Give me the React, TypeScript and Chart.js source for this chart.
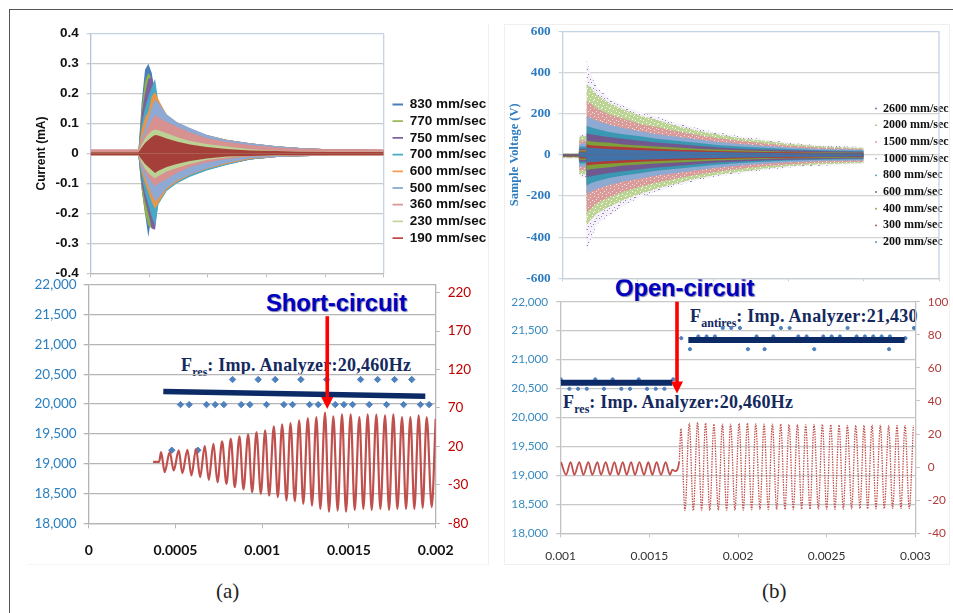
import React, { useEffect, useRef } from "react";
import { Chart, registerables } from "chart.js";

Chart.register(...registerables);

// ---------- Panel (a) top: current envelopes ----------
const currentX = [0, 0.813, 0.87, 0.927, 0.984, 1.041, 1.098, 1.155, 1.297, 1.468, 1.695, 1.98, 2.32, 2.72, 3.17, 3.57, 4.14, 5];
const currentNames = ["830 mm/sec", "770 mm/sec", "750 mm/sec", "700 mm/sec", "600 mm/sec", "500 mm/sec", "360 mm/sec", "230 mm/sec", "190 mm/sec"];
const currentColors = ["#4a7ebb", "#8fb04a", "#7d60a0", "#46aac5", "#ee9445", "#8ea9d3", "#d69190", "#bcd295", "#a53f3a"];
const currentLegendColors = ["#4a7ebb", "#98b954", "#7d60a0", "#46aac5", "#f59d56", "#95b3d7", "#d99694", "#c3d69b", "#be4b48"];
const currentUpper = [
  [0.005, 0.005, 0.17, 0.28, 0.3, 0.27, 0.2, 0.15, 0.12, 0.1, 0.08, 0.06, 0.045, 0.034, 0.024, 0.018, 0.013, 0.012],
  [0.005, 0.005, 0.15, 0.24, 0.27, 0.25, 0.2, 0.15, 0.12, 0.1, 0.08, 0.06, 0.045, 0.033, 0.023, 0.018, 0.013, 0.012],
  [0.005, 0.005, 0.13, 0.2, 0.25, 0.255, 0.22, 0.16, 0.125, 0.1, 0.08, 0.06, 0.045, 0.033, 0.023, 0.018, 0.013, 0.012],
  [0.005, 0.005, 0.1, 0.15, 0.19, 0.22, 0.25, 0.17, 0.125, 0.102, 0.082, 0.062, 0.046, 0.034, 0.024, 0.018, 0.013, 0.012],
  [0.005, 0.005, 0.08, 0.12, 0.14, 0.19, 0.205, 0.18, 0.13, 0.105, 0.084, 0.062, 0.046, 0.034, 0.024, 0.018, 0.013, 0.012],
  [0.005, 0.005, 0.05, 0.085, 0.12, 0.155, 0.18, 0.17, 0.13, 0.105, 0.085, 0.063, 0.045, 0.034, 0.024, 0.018, 0.013, 0.012],
  [0.014, 0.014, 0.04, 0.065, 0.09, 0.11, 0.13, 0.12, 0.105, 0.09, 0.07, 0.052, 0.038, 0.028, 0.02, 0.016, 0.014, 0.014],
  [0.005, 0.005, 0.03, 0.05, 0.065, 0.075, 0.08, 0.078, 0.068, 0.055, 0.042, 0.032, 0.023, 0.014, 0.009, 0.007, 0.006, 0.006],
  [0.004, 0.004, 0.02, 0.035, 0.045, 0.055, 0.062, 0.06, 0.05, 0.04, 0.03, 0.022, 0.015, 0.01, 0.008, 0.006, 0.005, 0.005],
];
const currentLower = [
  [-0.005, -0.005, -0.12, -0.2, -0.28, -0.2, -0.17, -0.15, -0.12, -0.095, -0.075, -0.055, -0.037, -0.02, -0.012, -0.009, -0.007, -0.006],
  [-0.005, -0.005, -0.12, -0.2, -0.24, -0.25, -0.19, -0.15, -0.12, -0.095, -0.075, -0.055, -0.037, -0.02, -0.012, -0.009, -0.007, -0.006],
  [-0.005, -0.005, -0.1, -0.16, -0.2, -0.25, -0.255, -0.16, -0.12, -0.095, -0.075, -0.055, -0.037, -0.02, -0.012, -0.009, -0.007, -0.006],
  [-0.005, -0.005, -0.08, -0.13, -0.17, -0.21, -0.24, -0.17, -0.125, -0.1, -0.078, -0.057, -0.038, -0.02, -0.012, -0.009, -0.007, -0.006],
  [-0.005, -0.005, -0.06, -0.1, -0.13, -0.16, -0.185, -0.165, -0.12, -0.095, -0.072, -0.052, -0.035, -0.018, -0.012, -0.009, -0.007, -0.006],
  [-0.005, -0.005, -0.05, -0.08, -0.11, -0.135, -0.16, -0.15, -0.115, -0.09, -0.07, -0.05, -0.032, -0.016, -0.012, -0.009, -0.007, -0.006],
  [-0.008, -0.008, -0.035, -0.06, -0.08, -0.095, -0.11, -0.1, -0.085, -0.065, -0.045, -0.03, -0.018, -0.01, -0.008, -0.008, -0.008, -0.008],
  [-0.006, -0.006, -0.03, -0.05, -0.065, -0.075, -0.083, -0.075, -0.06, -0.048, -0.035, -0.022, -0.013, -0.008, -0.007, -0.006, -0.006, -0.006],
  [-0.005, -0.005, -0.02, -0.035, -0.045, -0.055, -0.065, -0.058, -0.045, -0.035, -0.025, -0.017, -0.01, -0.008, -0.006, -0.006, -0.005, -0.005],
];

// ---------- Panel (b) top: sample voltage envelopes ----------
const voltageX = [0, 0.213, 0.222, 0.31, 0.319, 0.363, 0.452, 0.629, 0.807, 1.028, 1.25, 1.516, 1.782, 2.048, 2.358, 2.668, 3.023, 3.466, 3.998];
const voltageNames = ["2600 mm/sec", "2000 mm/sec", "1500 mm/sec", "1000 mm/sec", "800 mm/sec", "600 mm/sec", "400 mm/sec", "300 mm/sec", "200 mm/sec"];
const voltageColors = ["#8064a2", "#a6c36f", "#d98f8d", "#8eaad2", "#3a98b2", "#71588f", "#7f9f3a", "#b03a36", "#4172a8"];
const voltageUpper = [
  [8, 8, 100, 100, 460, 400, 330, 270, 240, 205, 185, 155, 130, 110, 90, 75, 58, 45, 38],
  [6, 6, 90, 90, 340, 330, 290, 250, 220, 190, 170, 140, 118, 100, 80, 68, 52, 40, 33],
  [5, 5, 70, 70, 260, 250, 225, 195, 175, 150, 135, 115, 98, 82, 68, 56, 44, 34, 28],
  [5, 5, 55, 55, 190, 180, 165, 145, 130, 115, 100, 88, 75, 63, 52, 44, 35, 28, 24],
  [4, 4, 40, 40, 140, 135, 125, 110, 100, 90, 78, 68, 58, 48, 40, 34, 28, 22, 20],
  [4, 4, 30, 30, 105, 100, 95, 85, 78, 68, 60, 52, 44, 37, 30, 26, 22, 18, 15],
  [3, 3, 22, 22, 70, 66, 62, 58, 50, 45, 40, 35, 30, 26, 22, 18, 15, 12, 10],
  [2, 2, 16, 16, 50, 47, 44, 40, 38, 33, 29, 25, 22, 19, 16, 14, 12, 10, 8],
  [1, 1, 12, 12, 35, 34, 32, 28, 25, 22, 20, 17, 15, 13, 11, 10, 8, 7, 6],
];
const voltageLower = [
  [-20, -20, -110, -110, -470, -420, -340, -290, -250, -205, -180, -150, -125, -105, -90, -75, -62, -52, -45],
  [-15, -15, -95, -95, -345, -320, -285, -250, -220, -190, -165, -138, -115, -97, -82, -68, -55, -46, -40],
  [-12, -12, -75, -75, -280, -265, -235, -205, -180, -155, -135, -115, -97, -82, -68, -56, -46, -38, -34],
  [-10, -10, -58, -58, -190, -180, -165, -145, -130, -115, -100, -88, -75, -63, -52, -44, -36, -30, -28],
  [-10, -10, -42, -42, -150, -140, -128, -112, -100, -90, -78, -68, -58, -48, -40, -34, -28, -24, -22],
  [-9, -9, -32, -32, -110, -105, -98, -88, -80, -70, -62, -54, -46, -38, -32, -28, -24, -20, -18],
  [-8, -8, -24, -24, -75, -70, -66, -60, -52, -47, -42, -37, -32, -28, -24, -20, -17, -15, -13],
  [-7, -7, -18, -18, -52, -49, -46, -42, -39, -34, -30, -27, -24, -21, -18, -16, -14, -12, -11],
  [-3, -3, -12, -12, -38, -36, -34, -30, -27, -24, -22, -19, -17, -15, -13, -12, -10, -9, -8],
];

// ---------- Panel (a) bottom: short-circuit (time in ms) ----------
const shortTime = [0.371, 0.406, 0.417, 0.438, 0.467, 0.49, 0.519, 0.54, 0.569, 0.592, 0.619, 0.642, 0.669, 0.692, 0.719, 0.742, 0.769, 0.794, 0.819, 0.842, 0.869, 0.892, 0.919, 0.942, 0.967, 0.992, 1.017, 1.04, 1.067, 1.09, 1.115, 1.14, 1.163, 1.188, 1.213, 1.237, 1.263, 1.287, 1.312, 1.335, 1.362, 1.385, 1.41, 1.435, 1.46, 1.483, 1.51, 1.533, 1.56, 1.583, 1.608, 1.631, 1.658, 1.681, 1.708, 1.731, 1.756, 1.779, 1.806, 1.829, 1.854, 1.877, 1.902, 1.925, 1.948, 1.977, 2.0];
const shortSignal = [0, 0, 12.6, -13.5, 12.6, -11.3, 14.8, -14.8, 15.7, -17.8, 17, -20, 20.4, -23.5, 23.5, -26.5, 26.5, -28.7, 30, -33, 33, -36, 35.7, -39.6, 38.7, -41.7, 40.9, -44, 46, -46, 48.7, -50.4, 50.4, -51.3, 53.9, -54.8, 57, -57, 58.3, -61.3, 64, -64.8, 59, -63.5, 61.7, -64.8, 61.7, -62.6, 58.3, -61.3, 61.7, -62.6, 61.3, -61.3, 60.4, -62.6, 61.7, -61.3, 58.3, -61.3, 58.3, -61.3, 60.4, -60, 58.3, -59, 56];
const shortFreqTime = [0.479, 0.529, 0.579, 0.629, 0.679, 0.729, 0.779, 0.829, 0.879, 0.929, 0.977, 1.025, 1.075, 1.125, 1.175, 1.223, 1.273, 1.323, 1.371, 1.421, 1.471, 1.521, 1.567, 1.617, 1.665, 1.717, 1.763, 1.815, 1.862, 1.912, 1.962];
const shortFreq = [19225, 19990, 19990, 19225, 19990, 19990, 19990, 20410, 19990, 19990, 20410, 19990, 20410, 19990, 19990, 20410, 19990, 19990, 20410, 19990, 19990, 19990, 20410, 19990, 20410, 19990, 20410, 19990, 20410, 19990, 19990];
const shortFitTime = [0.43, 1.94];
const shortFit = [20210, 20130];
const shortRightTicks = [-80, -30, 20, 70, 120, 170, 220];
const shortArrow = { x: 1.375, from: 21472, to: 19915 };

// ---------- Panel (b) bottom: open-circuit (time in ms) ----------
const openTime = [1.002, 1.03, 1.056, 1.077, 1.105, 1.128, 1.156, 1.178, 1.207, 1.227, 1.254, 1.278, 1.303, 1.325, 1.35, 1.372, 1.397, 1.419, 1.444, 1.47, 1.494, 1.517, 1.541, 1.566, 1.592, 1.616, 1.63, 1.645, 1.668, 1.678, 1.701, 1.725, 1.748, 1.772, 1.795, 1.817, 1.841, 1.864, 1.889, 1.912, 1.936, 1.958, 1.983, 2.006, 2.03, 2.053, 2.077, 2.1, 2.124, 2.147, 2.171, 2.194, 2.218, 2.241, 2.265, 2.288, 2.312, 2.335, 2.359, 2.382, 2.406, 2.429, 2.453, 2.476, 2.5, 2.523, 2.547, 2.57, 2.594, 2.617, 2.641, 2.664, 2.688, 2.711, 2.731, 2.756, 2.778, 2.803, 2.825, 2.85, 2.872, 2.897, 2.919, 2.942, 2.966, 2.989];
const openSignal = [3, -4.6, 3, -4.6, 3, -4.6, 3, -4.6, 3, -4.6, 3, -4.6, 3, -4.6, 3, -4.6, 3, -4.6, 3, -4.6, 3, -4.6, 3, -4.6, 3, -4.6, -1.5, -2.4, 3, 23.2, -26.2, 26.6, -26.2, 27, -26, 26.6, -26.2, 26, -26, 26, -26, 26, -26, 26.4, -26, 26.6, -25.8, 26.2, -25.6, 26, -25.6, 26, -25.6, 26, -25.6, 25.8, -25.6, 25.8, -25.4, 25.6, -25.4, 25.8, -25.4, 25.8, -25.4, 25.6, -25.4, 25.4, -25.4, 25.2, -25.2, 25.2, -25, 25.2, -25.2, 25.4, -25.2, 25.4, -25, 25, -25, 25, -25, 25.2, -25, 25.2];
const openFreqTime = [1.0, 1.049, 1.098, 1.147, 1.195, 1.244, 1.293, 1.342, 1.391, 1.44, 1.487, 1.536, 1.585, 1.635, 1.68, 1.729, 1.776, 1.823, 1.87, 1.914, 1.962, 2.011, 2.056, 2.105, 2.15, 2.199, 2.242, 2.291, 2.34, 2.387, 2.43, 2.481, 2.528, 2.575, 2.618, 2.669, 2.716, 2.763, 2.81, 2.852, 2.857, 2.944, 2.992];
const openFreq = [20660, 20495, 20495, 20495, 20660, 20495, 20660, 20495, 20495, 20660, 20495, 20495, 20495, 20660, 21370, 21180, 21400, 21400, 21400, 21546, 21546, 21546, 21180, 21400, 21180, 21400, 21546, 21546, 21400, 21400, 21180, 21400, 21400, 21400, 21546, 21400, 21400, 21400, 21400, 21180, 21400, 21370, 21546];
const openFitLowTime = [1.0, 1.63];
const openFitLow = [20600, 20600];
const openFitHighTime = [1.72, 2.94];
const openFitHigh = [21340, 21340];
const openArrow = { x: 1.656, from: 22000, to: 20414 };

const toXY = (xs: number[], ys: number[]) => xs.map((x, i) => ({ x, y: ys[i] }));
const axisSize = (size: number) => (scale: any) => {
  if (scale.isHorizontal()) scale.height = size;
  else scale.width = size;
  scale.paddingTop = 0;
  scale.paddingBottom = 0;
  scale.paddingLeft = 0;
  scale.paddingRight = 0;
};
const SERIF = "'Liberation Serif'";
const SANS = "'Liberation Sans'";
const LATO = "Lato";

const dotPattern = (bg: string, color: string, dots: number[][]) => {
  const tile = document.createElement("canvas");
  tile.width = 8;
  tile.height = 8;
  const c = tile.getContext("2d")!;
  c.fillStyle = bg;
  c.fillRect(0, 0, 8, 8);
  c.fillStyle = color;
  dots.forEach(([x, y]) => c.fillRect(x, y, 1, 1));
  return c.createPattern(tile, "repeat")!;
};

const legendPlacer = (left: number, top: number) => ({
  id: "legendPlacer",
  afterLayout(chart: any) {
    const l = chart.legend;
    l.left = left;
    l.top = top;
    l.right = left + 160;
    l.bottom = top + 200;
  },
});

const rightEdge = (color: string) => ({
  id: "rightEdge",
  beforeDatasetsDraw(chart: any) {
    const { ctx, chartArea: a } = chart;
    ctx.save();
    ctx.strokeStyle = color;
    ctx.lineWidth = 1.3;
    ctx.beginPath();
    ctx.moveTo(a.right, a.top);
    ctx.lineTo(a.right, a.bottom);
    ctx.stroke();
    ctx.restore();
  },
});

const arrowPlugin = (arrow: { x: number; from: number; to: number }) => ({
  id: "redArrow",
  afterDraw(chart: any) {
    const { ctx, scales } = chart;
    const x = scales.x.getPixelForValue(arrow.x);
    const y0 = scales.y.getPixelForValue(arrow.from);
    const y1 = scales.y.getPixelForValue(arrow.to);
    ctx.save();
    ctx.fillStyle = "#ff0000";
    ctx.fillRect(x - 1.8, y0, 3.6, y1 - y0 - 10);
    ctx.beginPath();
    ctx.moveTo(x - 6, y1 - 12);
    ctx.lineTo(x + 6, y1 - 12);
    ctx.lineTo(x, y1);
    ctx.closePath();
    ctx.fill();
    ctx.restore();
  },
});

const Abs = ({ x, y, style, children }: any) => (
  <div style={{ position: "absolute", left: x, top: y, whiteSpace: "nowrap", lineHeight: 1, ...style }}>{children}</div>
);

const impStyle = { fontFamily: SERIF, fontWeight: 700, fontSize: 18, color: "#14295e", letterSpacing: 0.25 };
const subStyle = { fontSize: 12, position: "relative", top: 5, letterSpacing: 0 } as any;
const headStyle = { fontFamily: SANS, fontWeight: 700, fontSize: 23.7, color: "#0000c0", textShadow: "1px 1px 1px #7a7aa8" };

export default function App() {
  const a1 = useRef<HTMLCanvasElement>(null);
  const a2 = useRef<HTMLCanvasElement>(null);
  const b1 = useRef<HTMLCanvasElement>(null);
  const b2 = useRef<HTMLCanvasElement>(null);

  useEffect(() => {
    const charts: Chart[] = [];

    // Panel (a) top. Canvas at (30,20) size 460x262; plot 90.7..383.7 x 33.7..273.3
    const currentSets: any[] = [];
    currentNames.forEach((name, i) => {
      [currentUpper[i], currentLower[i]].forEach((vals) => {
        currentSets.push({
          label: name,
          data: toXY(currentX, vals),
          borderWidth: 0,
          pointRadius: 0,
          order: 100 - i,
          fill: { target: "origin", above: currentColors[i], below: currentColors[i] },
        });
      });
    });
    charts.push(
      new Chart(a1.current!, {
        type: "line",
        data: { datasets: currentSets },
        plugins: [legendPlacer(392.5 - 30 - 3.2, 97.75 - 20 - 3.2), rightEdge("#c3d3e6")],
        options: {
          animation: false,
          responsive: false,
          layout: { padding: { top: 13.7, right: 106.3 } },
          plugins: {
            tooltip: { enabled: false },
            legend: {
              position: "chartArea",
              align: "start",
              labels: {
                usePointStyle: true,
                pointStyleWidth: 10.5,
                boxHeight: 2,
                padding: 3.2,
                color: "#111",
                font: { family: SANS, weight: "bold", size: 13.5, lineHeight: 1 },
                generateLabels: () =>
                  currentNames.map((text, i) => ({
                    text,
                    pointStyle: "line",
                    strokeStyle: currentLegendColors[i],
                    fillStyle: currentLegendColors[i],
                    fontColor: "#111",
                    lineWidth: 1.8,
                    hidden: false,
                    datasetIndex: i * 2,
                  })),
              },
            },
          },
          scales: {
            x: {
              type: "linear",
              min: 0,
              max: 5,
              afterFit: axisSize(8.7),
              ticks: { stepSize: 1, display: false },
              border: { color: "#bdbdbd", width: 1.3 },
              grid: { drawOnChartArea: false, color: "#bdbdbd", tickLength: 4 },
            },
            y: {
              min: -0.4,
              max: 0.4,
              afterFit: axisSize(60.7),
              title: {
                display: true,
                text: "Current (mA)",
                color: "#111",
                font: { family: SANS, weight: "bold", size: 12 },
                padding: { top: 4.5, bottom: 0 },
              },
              ticks: {
                stepSize: 0.1,
                padding: 8,
                color: "#111",
                font: { family: SANS, weight: "bold", size: 13.5 },
                callback: (v: any) => (Math.abs(v) < 1e-9 ? "0" : Number(v).toFixed(1)),
              },
              border: { color: "#b5c4d6", width: 1.3 },
              grid: {
                color: (c: any) => (c.tick && c.tick.value > 0.39 ? "#c3d3e6" : "#c9c9c9"),
                lineWidth: 1.3,
                tickLength: 4,
              },
            },
          },
        },
      } as any)
    );

    // Panel (a) bottom. Canvas at (30,275) size 460x290; plot 88.7..435.7 x 284.7..523.3
    charts.push(
      new Chart(a2.current!, {
        type: "line",
        data: {
          datasets: [
            {
              label: "Fit",
              data: toXY(shortFitTime, shortFit),
              yAxisID: "y",
              borderColor: "#0c2a66",
              borderWidth: 5.5,
              pointRadius: 0,
              order: 0,
            },
            {
              label: "Signal",
              data: toXY(shortTime, shortSignal),
              yAxisID: "y2",
              borderColor: "#c0504d",
              borderWidth: 2.2,
              pointRadius: 0,
              cubicInterpolationMode: "monotone",
              order: 1,
            },
            {
              label: "Frequency",
              data: toXY(shortFreqTime, shortFreq),
              yAxisID: "y",
              showLine: false,
              pointStyle: "rectRot",
              pointRadius: 3.2,
              pointBackgroundColor: "#4f81bd",
              pointBorderColor: "#4f81bd",
              order: 2,
            },
          ],
        },
        plugins: [arrowPlugin(shortArrow)],
        options: {
          animation: false,
          responsive: false,
          layout: { padding: { top: 9.7 } },
          plugins: { legend: { display: false }, tooltip: { enabled: false } },
          scales: {
            x: {
              type: "linear",
              min: 0,
              max: 2,
              afterFit: axisSize(41.7),
              afterBuildTicks: (s: any) => {
                s.ticks = [0, 0.5, 1, 1.5, 2].map((value) => ({ value }));
              },
              ticks: {
                padding: 14,
                maxRotation: 0,
                autoSkip: false,
                color: "#111",
                font: { family: LATO, size: 14, weight: "bold" },
                callback: (v: any) => (v === 0 ? "0" : String(Number(v) / 1000)),
              },
              border: { color: "#b5b5b5", width: 1.3 },
              grid: { drawOnChartArea: false, color: "#b5b5b5", tickLength: 5 },
            },
            y: {
              min: 18000,
              max: 22000,
              afterFit: axisSize(58.7),
              ticks: {
                stepSize: 500,
                padding: 7,
                color: "#2a7fc1",
                font: { family: LATO, size: 13.5 },
                callback: (v: any) => Number(v).toLocaleString("en-US"),
              },
              border: { color: "#b5b5b5", width: 1.3 },
              grid: { color: "#b5b5b5", lineWidth: 1.3, tickLength: 5 },
            },
            y2: {
              position: "right",
              min: -80,
              max: 230.4,
              afterFit: axisSize(54.3),
              afterBuildTicks: (s: any) => {
                s.ticks = shortRightTicks.map((value) => ({ value }));
              },
              ticks: { padding: 8, color: "#c00000", font: { family: LATO, size: 13.5 } },
              border: { color: "#b5b5b5", width: 1.3 },
              grid: { drawOnChartArea: false, color: "#b5b5b5", tickLength: 4 },
            },
          },
        },
      } as any)
    );

    // Panel (b) top. Canvas at (505,20) size 448x262; plot 562.7..939 x 31.3..278.3
    const patterns: any[] = [
      dotPattern("#f4f1f8", "#9a84b8", [[1, 1], [2, 1], [5, 3], [3, 6], [6, 6], [0, 4]]),
      dotPattern("#bcd494", "#ffffff", [[0, 0], [4, 1], [7, 3], [2, 4], [5, 6], [1, 7]]),
      dotPattern("#d99c9a", "#f6e4e3", [[1, 0], [5, 1], [3, 3], [7, 4], [1, 5], [5, 6]]),
    ];
    const voltageSets: any[] = [];
    voltageNames.forEach((name, i) => {
      const fillColor = i < 3 ? patterns[i] : voltageColors[i];
      [voltageUpper[i], voltageLower[i]].forEach((vals) => {
        voltageSets.push({
          label: name,
          data: toXY(voltageX, vals),
          borderWidth: 0,
          pointRadius: 0,
          order: 100 - i,
          fill: { target: "origin", above: fillColor, below: fillColor },
        });
      });
    });
    charts.push(
      new Chart(b1.current!, {
        type: "line",
        data: { datasets: voltageSets },
        plugins: [legendPlacer(875 - 505 - 4.7, 102.5 - 20 - 4.7), rightEdge("#c3d3e6")],
        options: {
          animation: false,
          responsive: false,
          layout: { padding: { top: 11.3, right: 14 } },
          plugins: {
            tooltip: { enabled: false },
            legend: {
              position: "chartArea",
              align: "start",
              labels: {
                usePointStyle: true,
                boxWidth: 2,
                boxHeight: 1.3,
                padding: 4.7,
                color: "#111",
                font: { family: SERIF, weight: "bold", size: 12, lineHeight: 1.0 },
                generateLabels: () =>
                  voltageNames.map((text, i) => ({
                    text,
                    pointStyle: "circle",
                    strokeStyle: voltageColors[i],
                    fillStyle: voltageColors[i],
                    fontColor: "#111",
                    lineWidth: 0,
                    hidden: false,
                    datasetIndex: i * 2,
                  })),
              },
            },
          },
          scales: {
            x: {
              type: "linear",
              min: 0,
              max: 5,
              afterFit: axisSize(3.7),
              ticks: { stepSize: 1, display: false },
              border: { color: "#c8ced6", width: 1.2 },
              grid: { drawOnChartArea: false, color: "#c8ced6", tickLength: 3 },
            },
            y: {
              min: -600,
              max: 600,
              afterFit: axisSize(57.7),
              title: {
                display: true,
                text: "Sample Voltage (V)",
                color: "#2e7cc0",
                font: { family: SERIF, weight: "bold", size: 12.5 },
                padding: { top: 2, bottom: 0 },
              },
              ticks: {
                stepSize: 200,
                padding: 8,
                color: "#2e7cc0",
                font: { family: SERIF, weight: "bold", size: 13.3 },
              },
              border: { color: "#c3d3e6", width: 1.3 },
              grid: {
                color: (c: any) => (c.tick && c.tick.value > 590 ? "#c3d3e6" : "#d4d4d4"),
                lineWidth: 1.2,
                tickLength: 4,
              },
            },
          },
        },
      } as any)
    );

    // Panel (b) bottom. Canvas at (505,285) size 448x282; plot 560.7..915.3 x 301.7..533.3
    charts.push(
      new Chart(b2.current!, {
        type: "line",
        data: {
          datasets: [
            {
              label: "Fit low",
              data: toXY(openFitLowTime, openFitLow),
              yAxisID: "y",
              borderColor: "#0c2a66",
              borderWidth: 6,
              borderCapStyle: "butt",
              pointRadius: 0,
              order: 0,
            },
            {
              label: "Fit high",
              data: toXY(openFitHighTime, openFitHigh),
              yAxisID: "y",
              borderColor: "#0c2a66",
              borderWidth: 6,
              borderCapStyle: "butt",
              pointRadius: 0,
              order: 0,
            },
            {
              label: "Signal",
              data: toXY(openTime, openSignal),
              yAxisID: "y2",
              borderColor: "#c0504d",
              borderWidth: 1.8,
              segment: {
                borderDash: (c: any) => (c.p0.parsed.x > 1.66 ? [1.5, 1.1] : undefined),
                borderWidth: (c: any) => (c.p0.parsed.x > 1.66 ? 1.3 : 1.8),
              },
              pointRadius: 0,
              cubicInterpolationMode: "monotone",
              order: 1,
            },
            {
              label: "Frequency",
              data: toXY(openFreqTime, openFreq),
              yAxisID: "y",
              showLine: false,
              pointStyle: "circle",
              pointRadius: 1.6,
              pointBackgroundColor: "#4f81bd",
              pointBorderColor: "#4f81bd",
              order: 2,
            },
          ],
        },
        plugins: [arrowPlugin(openArrow)],
        options: {
          animation: false,
          responsive: false,
          layout: { padding: { top: 16.7 } },
          plugins: { legend: { display: false }, tooltip: { enabled: false } },
          scales: {
            x: {
              type: "linear",
              min: 1,
              max: 3,
              afterFit: axisSize(33.7),
              afterBuildTicks: (s: any) => {
                s.ticks = [1, 1.5, 2, 2.5, 3].map((value) => ({ value }));
              },
              ticks: {
                padding: 12,
                maxRotation: 0,
                autoSkip: false,
                color: "#333",
                font: { family: LATO, size: 12 },
                callback: (v: any) => String(Number(v) / 1000),
              },
              border: { color: "#c2c2c2", width: 1.3 },
              grid: { drawOnChartArea: false, color: "#c2c2c2", tickLength: 4 },
            },
            y: {
              min: 18000,
              max: 22000,
              afterFit: axisSize(55.7),
              ticks: {
                stepSize: 500,
                padding: 8,
                color: "#3a8bbd",
                font: { family: LATO, size: 11.8 },
                callback: (v: any) => Number(v).toLocaleString("en-US"),
              },
              border: { color: "#c2c2c2", width: 1.3 },
              grid: { color: "#c8c8c8", lineWidth: 1.3, tickLength: 4.5 },
            },
            y2: {
              position: "right",
              min: -40,
              max: 100,
              afterFit: axisSize(37.7),
              ticks: { stepSize: 20, padding: 8, color: "#b23a3a", font: { family: LATO, size: 11.8 } },
              border: { color: "#c2c2c2", width: 1.3 },
              grid: { drawOnChartArea: false, color: "#c2c2c2", tickLength: 4.5 },
            },
          },
        },
      } as any)
    );

    return () => charts.forEach((c) => c.destroy());
  }, []);

  const cv = (x: number, y: number): React.CSSProperties => ({ position: "absolute", left: x, top: y });

  return (
    <div style={{ position: "absolute", left: 0, top: 0, width: 953, height: 613, overflow: "hidden", background: "#fff", filter: "blur(0.45px)" }}>
      {/* figure frame */}
      <div style={{ position: "absolute", left: 9, top: 8.5, width: 960, height: 620, border: "1.3px solid #555", boxSizing: "border-box" }} />
      {/* faint picture edges */}
      <div style={{ position: "absolute", left: 504, top: 24, width: 446, height: 541, border: "1px solid #efefef", boxSizing: "border-box" }} />
      <div style={{ position: "absolute", left: 28, top: 24, width: 461, height: 541, borderRight: "1px solid #f0f0f0", borderBottom: "1px solid #f4f4f4", boxSizing: "border-box" }} />

      <Abs x={181} y={356} style={impStyle}>
        F<span style={subStyle}>res</span>: Imp. Analyzer:20,460Hz
      </Abs>
      <Abs x={690} y={307} style={impStyle}>
        F<span style={subStyle}>antires</span>: Imp. Analyzer:21,430
      </Abs>
      <Abs x={563} y={393} style={impStyle}>
        F<span style={subStyle}>res</span>: Imp. Analyzer:20,460Hz
      </Abs>
      <Abs x={266} y={292} style={headStyle}>Short-circuit</Abs>
      <Abs x={615} y={277} style={headStyle}>Open-circuit</Abs>
      <Abs x={216} y={581} style={{ fontFamily: SERIF, fontSize: 21, color: "#222" }}>(a)</Abs>
      <Abs x={762} y={581} style={{ fontFamily: SERIF, fontSize: 21, color: "#222" }}>(b)</Abs>

      <canvas ref={a1} width={460} height={262} style={cv(30, 20)} />
      <canvas ref={a2} width={460} height={290} style={cv(30, 275)} />
      <canvas ref={b1} width={448} height={262} style={cv(505, 20)} />
      <canvas ref={b2} width={448} height={282} style={cv(505, 285)} />
    </div>
  );
}
